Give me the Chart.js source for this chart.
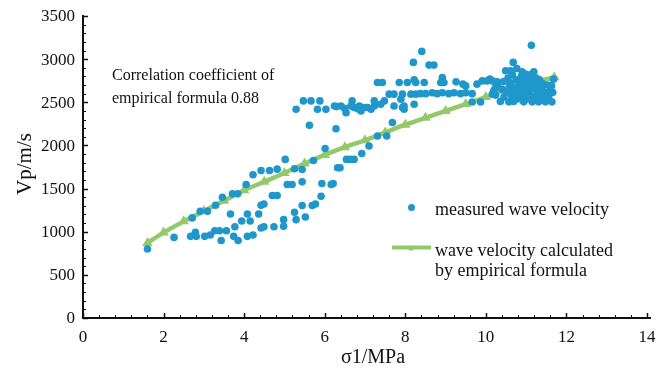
<!DOCTYPE html>
<html>
<head>
<meta charset="utf-8">
<script src="https://cdn.jsdelivr.net/npm/chart.js@4/dist/chart.umd.min.js"></script>
<style>
    html, body { margin: 0; padding: 0; background: #fff; }
    canvas { display: block; }
</style>
</head>
<body>
<canvas id="vpChart" width="671" height="376"></canvas>
<script>
// measured wave velocity (sigma1 in MPa, Vp in m/s)
const measuredX = [
    1.60, 2.26, 2.67, 2.71, 2.79, 2.81, 2.91, 3.02, 3.09, 3.16, 3.27, 3.29, 3.39, 3.43, 3.46, 3.56,
    3.66, 3.71, 3.74, 3.77, 3.84, 3.85, 3.94, 4.05, 4.08, 4.08, 4.15, 4.22, 4.22, 4.36, 4.42, 4.42,
    4.49, 4.42, 4.49, 4.63, 4.70, 4.74, 4.82, 4.82, 4.98, 4.98, 5.02, 5.07, 5.19, 5.25, 5.25, 5.29,
    5.29, 5.44, 5.44, 5.44, 5.47, 5.66, 5.52, 5.62, 5.72, 5.69, 5.77, 5.82, 5.88, 5.91, 5.93, 6.16,
    6.21, 6.01, 6.03, 6.24, 6.29, 6.40, 6.28, 6.32, 6.38, 6.49, 6.53, 6.54, 6.63, 6.73, 6.65, 6.68,
    6.73, 6.81, 6.86, 6.90, 6.92, 6.98, 7.06, 7.10, 7.15, 7.23, 7.23, 7.31, 7.54, 7.31, 7.43, 7.39,
    7.48, 7.60, 7.68, 7.72, 7.72, 7.85, 7.89, 7.93, 7.93, 7.97, 7.97, 8.05, 8.14, 8.20, 8.22, 8.22,
    8.26, 8.26, 8.38, 8.41, 8.47, 8.51, 8.59, 8.67, 8.71, 8.79, 8.88, 8.92, 8.92, 8.96, 9.08, 9.21,
    9.26, 9.37, 9.43, 9.50, 9.50, 9.66, 9.66, 9.78, 9.87, 9.91, 10.03, 10.16, 10.16, 10.24, 10.28,
    10.36, 10.45, 10.49, 10.52, 10.57, 10.60, 10.61, 10.64, 10.68, 10.69, 10.72, 10.75, 10.77, 10.80,
    10.82, 10.85, 10.88, 10.90, 10.92, 10.94, 10.96, 10.98, 11.00, 11.02, 11.04, 11.06, 11.08, 11.10,
    11.13, 11.15, 11.17, 11.19, 11.21, 11.24, 11.27, 11.30, 11.31, 11.35, 11.38, 11.42, 11.45, 11.48,
    11.50, 11.53, 11.56, 11.60, 11.63, 11.64, 11.66, 11.68, 10.40, 10.44, 10.30, 10.55, 10.66, 10.87,
    11.11, 10.70, 10.58, 11.25, 10.10, 10.20, 10.25, 10.62, 10.78, 10.93, 11.07, 11.22, 11.40, 10.84,
    11.00, 11.15, 11.33
];
const measuredY = [
    800, 934, 946, 1160, 992, 946, 1236, 946, 1236, 962, 1012, 1306, 1012, 899, 1399, 1012,
    1206, 1439, 946, 1058, 1439, 899, 1125, 1547, 1206, 946, 1125, 962, 1660, 1206, 1710, 1306,
    1322, 1043, 1058, 1710, 1419, 1058, 1419, 1725, 1140, 1062, 1838, 1547, 1547, 1225, 1729, 1140,
    2419, 1721, 1578, 1303, 2516, 2516, 1171, 2233, 1826, 1303, 1322, 2419, 2516, 1411, 1558, 1547,
    1558, 1965, 2419, 2457, 2450, 2457, 2194, 1741, 1741, 2431, 2380, 1838, 1838, 1838, 2457, 2516,
    2439, 2427, 2457, 2399, 1907, 2439, 2439, 1993, 2419, 2457, 2516, 2109, 2109, 2730, 2730, 2477,
    2516, 2594, 2265, 2594, 2457, 2730, 2535, 2594, 2439, 2419, 2457, 2730, 2594, 2962, 2477, 2760,
    2594, 2730, 2600, 3090, 2730, 2600, 2931, 2610, 2931, 2600, 2730, 2788, 2610, 2730, 2600, 2610,
    2737, 2600, 2710, 2690, 2610, 2600, 2504, 2710, 2504, 2748, 2748, 2748, 2594, 2583, 2737,
    2510, 2560, 2865, 2620, 2505, 2700, 2865, 2580, 2962, 2510, 2660, 2760, 2892, 2540,
    2620, 2700, 2800, 2853, 2580, 2505, 2660, 2826, 2740, 2540, 2620, 2700, 2780, 2580,
    3160, 2505, 2660, 2853, 2740, 2560, 2620, 2700, 2505, 2580, 2660, 2530, 2620, 2505,
    2580, 2700, 2560, 2640, 2690, 2505, 2613, 2768, 2650, 2740, 2680, 2780, 2820, 2760,
    2820, 2600, 2660, 2780, 2770, 2640, 2690, 2720, 2680, 2740, 2600, 2680, 2720, 2560,
    2660, 2560, 2760
];

// wave velocity calculated by empirical formula
const formulaX = [1.6, 2.0, 2.5, 3.0, 3.5, 4.0, 4.5, 5.0, 5.5, 6.0, 6.5, 7.0, 7.5, 8.0, 8.5, 9.0, 9.5, 10.0, 10.5, 11.0, 11.7];
const formulaY = [870, 990, 1120, 1240, 1360, 1480, 1580, 1680, 1790, 1890, 1980, 2060, 2150, 2240, 2320, 2400, 2480, 2560, 2640, 2710, 2790];

const xTicks = [0, 2, 4, 6, 8, 10, 12, 14];
const yTicks = [0, 500, 1000, 1500, 2000, 2500, 3000, 3500];

const xTitle = 'σ1/MPa';
const yTitle = 'Vp/m/s';
const noteLines = ['Correlation coefficient of', 'empirical formula 0.88'];
const measuredLabel = 'measured wave velocity';
const formulaLabel = ['wave velocity calculated', 'by empirical formula'];

const blue = '#1f97cb';
const green = '#93c96b';
const serif = '"Liberation Serif", "DejaVu Serif", serif';

const toPoints = (xs, ys) => xs.map((x, i) => ({ x, y: ys[i] }));

const axesPlugin = {
    id: 'axesPlugin',
    afterDraw(chart) {
        const { ctx, chartArea, scales } = chart;
        const { x, y } = scales;
        const left = chartArea.left;
        const bottom = chartArea.bottom;

        ctx.save();
        ctx.strokeStyle = '#111';
        ctx.fillStyle = '#111';

        // minor and major ticks, pointing into the plot
        ctx.lineWidth = 1;
        ctx.beginPath();
        for (let v = 0; v <= 14.001; v += 0.4) {
            const px = Math.round(x.getPixelForValue(v)) + 0.5;
            ctx.moveTo(px, bottom);
            ctx.lineTo(px, bottom - 3);
        }
        for (let v = 0; v <= 3500; v += 100) {
            const py = Math.round(y.getPixelForValue(v)) + 0.5;
            ctx.moveTo(left, py);
            ctx.lineTo(left + 3, py);
        }
        ctx.stroke();

        ctx.lineWidth = 1.5;
        ctx.beginPath();
        xTicks.forEach((v) => {
            const px = Math.round(x.getPixelForValue(v)) + 0.5;
            ctx.moveTo(px, bottom);
            ctx.lineTo(px, bottom - 5);
        });
        yTicks.forEach((v) => {
            const py = Math.round(y.getPixelForValue(v)) + 0.5;
            ctx.moveTo(left, py);
            ctx.lineTo(left + 5, py);
        });
        ctx.stroke();

        // axis lines
        ctx.lineWidth = 2;
        ctx.beginPath();
        ctx.moveTo(left, chartArea.top - 1);
        ctx.lineTo(left, bottom);
        ctx.lineTo(chartArea.right + 4, bottom);
        ctx.stroke();

        // tick labels
        ctx.font = `17px ${serif}`;
        ctx.textAlign = 'center';
        ctx.textBaseline = 'middle';
        xTicks.forEach((v) => {
            ctx.fillText(String(v), x.getPixelForValue(v), bottom + 20);
        });
        ctx.textAlign = 'right';
        yTicks.forEach((v) => {
            ctx.fillText(String(v), left - 8, y.getPixelForValue(v) + 1);
        });

        // axis titles
        ctx.font = `20px ${serif}`;
        ctx.textAlign = 'center';
        ctx.fillText(xTitle, (left + chartArea.right) / 2 + 8, bottom + 40);
        ctx.save();
        ctx.translate(25, 164);
        ctx.rotate(-Math.PI / 2);
        ctx.font = `21px ${serif}`;
        ctx.fillText(yTitle, 0, 0);
        ctx.restore();

        // correlation note
        ctx.font = `16px ${serif}`;
        ctx.textAlign = 'left';
        ctx.fillText(noteLines[0], 112, 76);
        ctx.fillText(noteLines[1], 112, 99);

        // legend
        ctx.fillStyle = blue;
        ctx.beginPath();
        ctx.arc(411.5, 207.5, 3.5, 0, Math.PI * 2);
        ctx.fill();

        ctx.strokeStyle = green;
        ctx.lineWidth = 4;
        ctx.beginPath();
        ctx.moveTo(392, 247.5);
        ctx.lineTo(431, 247.5);
        ctx.stroke();
        ctx.fillStyle = green;
        ctx.beginPath();
        ctx.moveTo(411, 245);
        ctx.lineTo(413.5, 250.5);
        ctx.lineTo(408.5, 250.5);
        ctx.closePath();
        ctx.fill();

        ctx.fillStyle = '#111';
        ctx.font = `18px ${serif}`;
        ctx.fillText(measuredLabel, 435, 210);
        ctx.fillText(formulaLabel[0], 435, 251);
        ctx.fillText(formulaLabel[1], 435, 271);

        ctx.restore();
    },
};

new Chart(document.getElementById('vpChart'), {
    type: 'scatter',
    data: {
        datasets: [
            {
                label: measuredLabel,
                data: toPoints(measuredX, measuredY),
                backgroundColor: blue,
                borderColor: blue,
                borderWidth: 0,
                pointRadius: 3.8,
                order: 0,
            },
            {
                label: formulaLabel.join(' '),
                data: toPoints(formulaX, formulaY),
                showLine: true,
                borderColor: green,
                backgroundColor: green,
                borderWidth: 4.5,
                pointStyle: 'triangle',
                pointRadius: 1.5,
                cubicInterpolationMode: 'monotone',
                order: 1,
            },
        ],
    },
    options: {
        responsive: false,
        animation: false,
        devicePixelRatio: 1,
        layout: {
            padding: { left: 83, top: 16, right: 24, bottom: 58 },
        },
        plugins: {
            legend: { display: false },
            tooltip: { enabled: false },
        },
        scales: {
            x: { type: 'linear', min: 0, max: 14, display: false },
            y: { type: 'linear', min: 0, max: 3500, display: false },
        },
    },
    plugins: [axesPlugin],
});
</script>
</body>
</html>
